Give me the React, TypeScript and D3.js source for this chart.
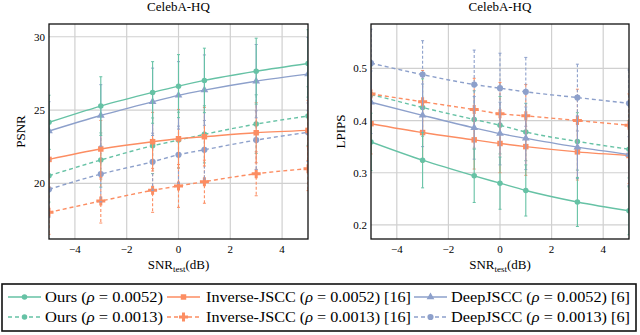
import React, { useRef, useEffect } from "react";
import * as d3 from "d3";

// x positions (SNR_test in dB)
const snr = [-5, -3, -1, 0, 1, 3, 5];

// PSNR values (left panel)
const psnrOurs52 = [24.16, 25.27, 26.2, 26.63, 27.02, 27.65, 28.18];
const psnrInv52 = [21.63, 22.34, 22.84, 23.04, 23.18, 23.45, 23.61];
const psnrDeep52 = [23.57, 24.63, 25.56, 26.0, 26.36, 26.97, 27.45];
const psnrOurs13 = [20.52, 21.59, 22.56, 22.95, 23.34, 24.04, 24.59];
const psnrInv13 = [18.02, 18.79, 19.52, 19.82, 20.11, 20.65, 21.0];
const psnrDeep13 = [19.59, 20.63, 21.47, 21.95, 22.29, 22.95, 23.48];
// PSNR error half-widths
const psnrErrOurs52 = [1.85, 2.0, 2.1, 2.15, 2.2, 2.25, 2.3];
const psnrErrInv52 = [1.9, 1.95, 2.0, 2.0, 2.0, 2.05, 2.05];
const psnrErrDeep52 = [2.0, 2.1, 2.3, 2.3, 2.4, 2.5, 2.5];
const psnrErrOurs13 = [1.8, 1.85, 1.9, 1.9, 1.95, 2.0, 2.0];
const psnrErrInv13 = [1.5, 1.5, 1.5, 1.46, 1.47, 1.5, 1.5];
const psnrErrDeep13 = [1.9, 1.9, 1.95, 1.95, 2.0, 2.0, 2.0];

// LPIPS values (right panel)
const lpOurs52 = [0.359, 0.324, 0.294, 0.28, 0.266, 0.244, 0.227];
const lpInv52 = [0.394, 0.377, 0.363, 0.356, 0.35, 0.34, 0.333];
const lpDeep52 = [0.435, 0.41, 0.386, 0.375, 0.366, 0.349, 0.335];
const lpOurs13 = [0.45, 0.425, 0.402, 0.391, 0.378, 0.36, 0.345];
const lpInv13 = [0.451, 0.436, 0.421, 0.413, 0.409, 0.4, 0.391];
const lpDeep13 = [0.51, 0.488, 0.469, 0.462, 0.455, 0.444, 0.433];
const lpErrOurs52 = [0.055, 0.053, 0.051, 0.05, 0.049, 0.047, 0.046];
const lpErrInv52 = [0.058, 0.057, 0.056, 0.056, 0.055, 0.054, 0.054];
const lpErrDeep52 = [0.06, 0.06, 0.06, 0.06, 0.06, 0.06, 0.06];
const lpErrOurs13 = [0.055, 0.055, 0.055, 0.055, 0.055, 0.055, 0.055];
const lpErrInv13 = [0.06, 0.06, 0.06, 0.06, 0.06, 0.06, 0.06];
const lpErrDeep13 = [0.065, 0.065, 0.066, 0.067, 0.066, 0.064, 0.064];

const xTicks = [-4, -2, 0, 2, 4];
const psnrTicks = [20, 25, 30];
const lpipsTicks = [0.2, 0.3, 0.4, 0.5];

const legendNames = ["Ours", "Inverse-JSCC", "DeepJSCC"];
const legendRho = ["0.0052", "0.0013"];
const legendRefs = ["", " [16]", " [6]"];

const GREEN = "#66c2a5";
const ORANGE = "#fc8d62";
const BLUE = "#8da0cb";
const FONT = "Liberation Serif, Times New Roman, DejaVu Serif, serif";

type Series = { y: number[]; e: number[]; color: string; dash: boolean; marker: string };

const leftSeries: Series[] = [
  { y: psnrOurs13, e: psnrErrOurs13, color: GREEN, dash: true, marker: "circle" },
  { y: psnrInv13, e: psnrErrInv13, color: ORANGE, dash: true, marker: "cross" },
  { y: psnrDeep13, e: psnrErrDeep13, color: BLUE, dash: true, marker: "dot" },
  { y: psnrInv52, e: psnrErrInv52, color: ORANGE, dash: false, marker: "square" },
  { y: psnrDeep52, e: psnrErrDeep52, color: BLUE, dash: false, marker: "triangle" },
  { y: psnrOurs52, e: psnrErrOurs52, color: GREEN, dash: false, marker: "circle" },
];
const rightSeries: Series[] = [
  { y: lpOurs13, e: lpErrOurs13, color: GREEN, dash: true, marker: "circle" },
  { y: lpInv13, e: lpErrInv13, color: ORANGE, dash: true, marker: "cross" },
  { y: lpDeep13, e: lpErrDeep13, color: BLUE, dash: true, marker: "dot" },
  { y: lpInv52, e: lpErrInv52, color: ORANGE, dash: false, marker: "square" },
  { y: lpDeep52, e: lpErrDeep52, color: BLUE, dash: false, marker: "triangle" },
  { y: lpOurs52, e: lpErrOurs52, color: GREEN, dash: false, marker: "circle" },
];

const markerPath = (m: string) => {
  const sym =
    m === "square" ? d3.symbolSquare :
    m === "triangle" ? d3.symbolTriangle :
    m === "cross" ? d3.symbolCross : d3.symbolCircle;
  const size = m === "cross" ? 45 : m === "square" ? 30 : m === "dot" ? 30 : m === "triangle" ? 26 : 24;
  return d3.symbol().type(sym).size(size)() as string;
};

const drawPanel = (svg: any, cfg: any) => {
  const { x0, x1, y0, y1, domain, yTicks, fmt, series, ylabel, ylabelX, id } = cfg;
  const x = d3.scaleLinear().domain([-5, 5]).range([x0, x1]);
  const y = d3.scaleLinear().domain(domain).range([y1, y0]);
  const g = svg.append("g").style("font-family", FONT);

  g.append("clipPath").attr("id", id)
    .append("rect").attr("x", x0).attr("y", y0).attr("width", x1 - x0).attr("height", y1 - y0);

  // grid
  g.selectAll(".vx").data(xTicks).join("line")
    .attr("x1", (d: number) => x(d)).attr("x2", (d: number) => x(d))
    .attr("y1", y0).attr("y2", y1)
    .attr("stroke", "#d0d0d0").attr("stroke-width", 1.2);
  g.selectAll(".hy").data(yTicks).join("line")
    .attr("y1", (d: number) => y(d)).attr("y2", (d: number) => y(d))
    .attr("x1", x0).attr("x2", x1)
    .attr("stroke", "#d0d0d0").attr("stroke-width", 1.2);

  const plot = g.append("g").attr("clip-path", `url(#${id})`);
  const line = d3.line<number>().x((_, i) => x(snr[i])).y((d) => y(d)).curve(d3.curveMonotoneX);

  series.forEach((s: Series) => {
    const sg = plot.append("g");
    // error bars
    snr.forEach((sx, i) => {
      const xx = x(sx);
      const top = y(s.y[i] + s.e[i]);
      const bot = y(s.y[i] - s.e[i]);
      sg.append("line").attr("x1", xx).attr("x2", xx).attr("y1", top).attr("y2", bot)
        .attr("stroke", s.color).attr("stroke-width", 1.1)
        .attr("stroke-dasharray", s.dash ? "3,2" : null);
      [top, bot].forEach((yy) =>
        sg.append("line").attr("x1", xx - 1.5).attr("x2", xx + 1.5).attr("y1", yy).attr("y2", yy)
          .attr("stroke", s.color).attr("stroke-width", 1));
    });
    sg.append("path").attr("d", line(s.y)).attr("fill", "none")
      .attr("stroke", s.color).attr("stroke-width", 1.4)
      .attr("stroke-dasharray", s.dash ? "4,3" : null);
    sg.selectAll("path.m").data(s.y).join("path")
      .attr("class", "m")
      .attr("d", markerPath(s.marker))
      .attr("transform", (d: number, i: number) => `translate(${x(snr[i])},${y(d)})`)
      .attr("fill", s.color);
  });

  // frame
  g.append("rect").attr("x", x0).attr("y", y0).attr("width", x1 - x0).attr("height", y1 - y0)
    .attr("fill", "none").attr("stroke", "#111").attr("stroke-width", 1.3);

  // tick labels
  g.selectAll(".xt").data(xTicks).join("text")
    .attr("x", (d: number) => x(d)).attr("y", y1 + 14)
    .attr("text-anchor", "middle").attr("font-size", 11)
    .text((d: number) => (d < 0 ? `\u2212${-d}` : `${d}`));
  g.selectAll(".yt").data(yTicks).join("text")
    .attr("x", x0 - 4).attr("y", (d: number) => y(d) + 4)
    .attr("text-anchor", "end").attr("font-size", 11)
    .text((d: number) => fmt(d));

  // title
  g.append("text").attr("x", (x0 + x1) / 2).attr("y", 11).attr("text-anchor", "middle")
    .attr("font-size", 13).text("CelebA-HQ");

  // y label
  g.append("text").attr("transform", `translate(${ylabelX},${(y0 + y1) / 2}) rotate(-90)`)
    .attr("text-anchor", "middle").attr("font-size", 13).text(ylabel);

  // x label
  const xl = g.append("text").attr("x", (x0 + x1) / 2).attr("y", y1 + 30).attr("text-anchor", "middle")
    .attr("font-size", 13);
  xl.append("tspan").text("SNR");
  xl.append("tspan").attr("font-size", 9).attr("dy", 2.5).text("test");
  xl.append("tspan").attr("dy", -2.5).text("(dB)");
};

const App = () => {
  const ref = useRef<SVGSVGElement>(null);

  useEffect(() => {
    if (!ref.current) return;
    const svg = d3.select(ref.current);
    svg.selectAll("*").remove();
    svg.append("rect").attr("width", 640).attr("height", 335).attr("fill", "#fff");

    drawPanel(svg, {
      x0: 49, x1: 308, y0: 24, y1: 239, domain: [16.2, 30.87], yTicks: psnrTicks,
      fmt: (d: number) => `${d}`, series: leftSeries, ylabel: "PSNR", ylabelX: 25, id: "clipL",
    });
    drawPanel(svg, {
      x0: 371, x1: 629, y0: 24, y1: 239, domain: [0.173, 0.585], yTicks: lpipsTicks,
      fmt: (d: number) => d.toFixed(1), series: rightSeries, ylabel: "LPIPS", ylabelX: 345, id: "clipR",
    });

    // legend
    const lg = svg.append("g").style("font-family", FONT);
    lg.append("rect").attr("x", 2).attr("y", 284).attr("width", 634).attr("height", 47)
      .attr("fill", "#fff").attr("stroke", "#111").attr("stroke-width", 1.6);
    const colors = [GREEN, ORANGE, BLUE];
    const markers = [["circle", "square", "triangle"], ["circle", "cross", "dot"]];
    const lineX = [8, 167, 414];
    const textX = [45, 206, 451];
    const textW = [[118, 205, 179], [118, 205, 179]];
    legendRho.forEach((rho, r) => {
      const yy = 297 + r * 20;
      legendNames.forEach((name, c) => {
        lg.append("line").attr("x1", lineX[c]).attr("x2", lineX[c] + 33).attr("y1", yy).attr("y2", yy)
          .attr("stroke", colors[c]).attr("stroke-width", 1.4)
          .attr("stroke-dasharray", r === 1 ? "4,3" : null);
        lg.append("path").attr("d", markerPath(markers[r][c]))
          .attr("transform", `translate(${lineX[c] + 16.5},${yy})`).attr("fill", colors[c]);
        const t = lg.append("text").attr("x", textX[c]).attr("y", yy + 4.5)
          .attr("font-size", 14)
          .attr("textLength", textW[r][c]).attr("lengthAdjust", "spacingAndGlyphs");
        t.append("tspan").text(`${name} (`);
        t.append("tspan").attr("font-style", "italic").text("\u03c1");
        t.append("tspan").text(` = ${rho})${legendRefs[c]}`);
      });
    });
  }, []);

  return (
    <svg ref={ref} width={640} height={335} style={{ position: "absolute", left: 0, top: 0 }} />
  );
};

export default App;
